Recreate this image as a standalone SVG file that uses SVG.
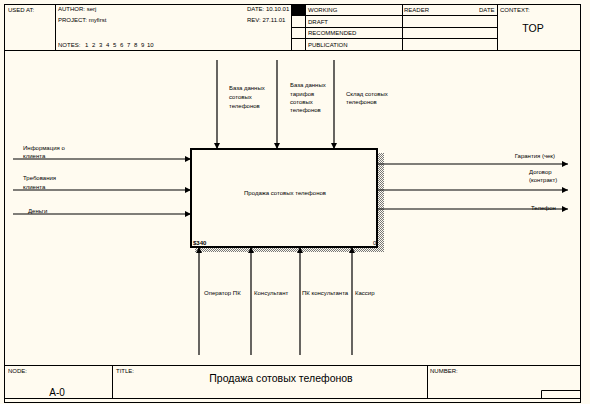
<svg xmlns="http://www.w3.org/2000/svg" width="590" height="404" viewBox="0 0 590 404">
<defs>
<style>
.t{font-family:"Liberation Sans",Arial,sans-serif;font-size:6px;fill:#000}
.h{font-family:"Liberation Sans",Arial,sans-serif;font-size:6px;fill:#000}
.big{font-family:"Liberation Sans",Arial,sans-serif;font-size:10.5px;fill:#000}
.ln{stroke:#000;stroke-width:1;fill:none}
.arr{stroke:#000;stroke-width:1.2;fill:none;marker-end:url(#ah)}
</style>
<marker id="ah" markerUnits="userSpaceOnUse" markerWidth="8" markerHeight="8" refX="7" refY="4" orient="auto">
<path d="M1,1 L7,4 L1,7 Z" fill="#000"/>
</marker>
<pattern id="hatch" width="2" height="2" patternUnits="userSpaceOnUse">
<rect x="0" y="0" width="1" height="1" fill="#777"/>
<rect x="1" y="1" width="1" height="1" fill="#777"/>
</pattern>
</defs>
<rect width="590" height="404" fill="#fffbf0"/>
<g id="frame" class="ln">
<rect x="4.5" y="4.5" width="576" height="398"/>
<line x1="4" y1="50.5" x2="581" y2="50.5"/>
<line x1="55.5" y1="4" x2="55.5" y2="50"/>
<line x1="291.5" y1="4" x2="291.5" y2="50"/>
<line x1="305.5" y1="4" x2="305.5" y2="50"/>
<line x1="402.5" y1="4" x2="402.5" y2="50"/>
<line x1="497.5" y1="4" x2="497.5" y2="50"/>
<line x1="291" y1="15.5" x2="497" y2="15.5"/>
<line x1="291" y1="27.5" x2="497" y2="27.5"/>
<line x1="291" y1="38.5" x2="497" y2="38.5"/>
<line x1="4" y1="365.5" x2="581" y2="365.5"/>
<line x1="112.5" y1="365" x2="112.5" y2="398"/>
<line x1="427.5" y1="365" x2="427.5" y2="398"/>
<line x1="4" y1="398.5" x2="581" y2="398.5"/>
<polyline points="541.5,398 541.5,390.5 581,390.5"/>
</g>
<rect x="292" y="5" width="13" height="10" fill="#000"/>
<g id="header">
<text class="h" x="8" y="12">USED AT:</text>
<text class="h" x="58" y="10.5">AUTHOR: serj</text>
<text class="h" x="58" y="21.5">PROJECT: myfirst</text>
<text class="h" y="46.5"><tspan x="58">NOTES:</tspan><tspan x="85">1</tspan><tspan x="92">2</tspan><tspan x="99">3</tspan><tspan x="106">4</tspan><tspan x="113">5</tspan><tspan x="120">6</tspan><tspan x="127">7</tspan><tspan x="134">8</tspan><tspan x="141">9</tspan><tspan x="147">10</tspan></text>
<text class="h" x="247" y="10.5">DATE: 10.10.01</text>
<text class="h" x="247" y="21.5">REV: 27.11.01</text>
<text class="h" x="308" y="12">WORKING</text>
<text class="h" x="308" y="23.5">DRAFT</text>
<text class="h" x="308" y="35">RECOMMENDED</text>
<text class="h" x="308" y="46.5">PUBLICATION</text>
<text class="h" x="404" y="12">READER</text>
<text class="h" x="479" y="12">DATE</text>
<text class="h" x="500" y="12">CONTEXT:</text>
<text class="big" x="533" y="32" text-anchor="middle">TOP</text>
</g>
<g id="footer">
<text class="h" x="8" y="373">NODE:</text>
<text class="big" x="57" y="396" text-anchor="middle" style="font-size:10px">A-0</text>
<text class="h" x="116" y="373">TITLE:</text>
<text class="big" x="281" y="382" text-anchor="middle">Продажа сотовых телефонов</text>
<text class="h" x="430" y="373">NUMBER:</text>
</g>
<g id="node-A0">
<rect x="378" y="153" width="6" height="99" fill="url(#hatch)"/>
<rect x="195" y="247" width="189" height="5" fill="url(#hatch)"/>
<rect x="191" y="149" width="186" height="98" fill="#fffbf0" stroke="#000" stroke-width="2"/>
<text class="t" x="285" y="195" text-anchor="middle">Продажа сотовых телефонов</text>
<text class="t" x="193" y="245" style="font-weight:bold">$340</text>
<text class="t" x="373" y="245">0</text>
</g>
<g id="connectors">
<line class="arr" x1="13" y1="159" x2="191" y2="159"/>
<line class="arr" x1="13" y1="190" x2="191" y2="190"/>
<line class="arr" x1="13" y1="214" x2="191" y2="214"/>
<line class="arr" x1="217" y1="60" x2="217" y2="149"/>
<line class="arr" x1="277" y1="60" x2="277" y2="149"/>
<line class="arr" x1="334" y1="60" x2="334" y2="149"/>
<line class="arr" x1="377" y1="164" x2="568" y2="164"/>
<line class="arr" x1="377" y1="190" x2="568" y2="190"/>
<line class="arr" x1="377" y1="209" x2="568" y2="209"/>
<line class="arr" x1="199" y1="355" x2="199" y2="247"/>
<line class="arr" x1="251" y1="355" x2="251" y2="247"/>
<line class="arr" x1="300" y1="355" x2="300" y2="247"/>
<line class="arr" x1="352" y1="355" x2="352" y2="247"/>
</g>
<g id="labels">
<text class="t" x="23" y="149.5">Информация о</text>
<text class="t" x="23" y="158">клиента</text>
<text class="t" x="23" y="180">Требования</text>
<text class="t" x="23" y="188.5">клиента</text>
<text class="t" x="28" y="213">Деньги</text>
<text class="t" x="229" y="90">База данных</text>
<text class="t" x="229" y="99">сотовых</text>
<text class="t" x="229" y="107.5">телефонов</text>
<text class="t" x="290" y="87">База данных</text>
<text class="t" x="290" y="95.5">тарифов</text>
<text class="t" x="290" y="103.5">сотовых</text>
<text class="t" x="290" y="111.5">телефонов</text>
<text class="t" x="346" y="96">Склад сотовых</text>
<text class="t" x="346" y="104">телефонов</text>
<text class="t" x="555" y="158" text-anchor="end">Гарантия (чек)</text>
<text class="t" x="529" y="174">Договор</text>
<text class="t" x="529" y="182">(контракт)</text>
<text class="t" x="531" y="210">Телефон</text>
<text class="t" x="204" y="295">Оператор ПК</text>
<text class="t" x="254" y="295">Консультант</text>
<text class="t" x="302" y="295">ПК консультанта</text>
<text class="t" x="355" y="295">Кассир</text>
</g>
</svg>
